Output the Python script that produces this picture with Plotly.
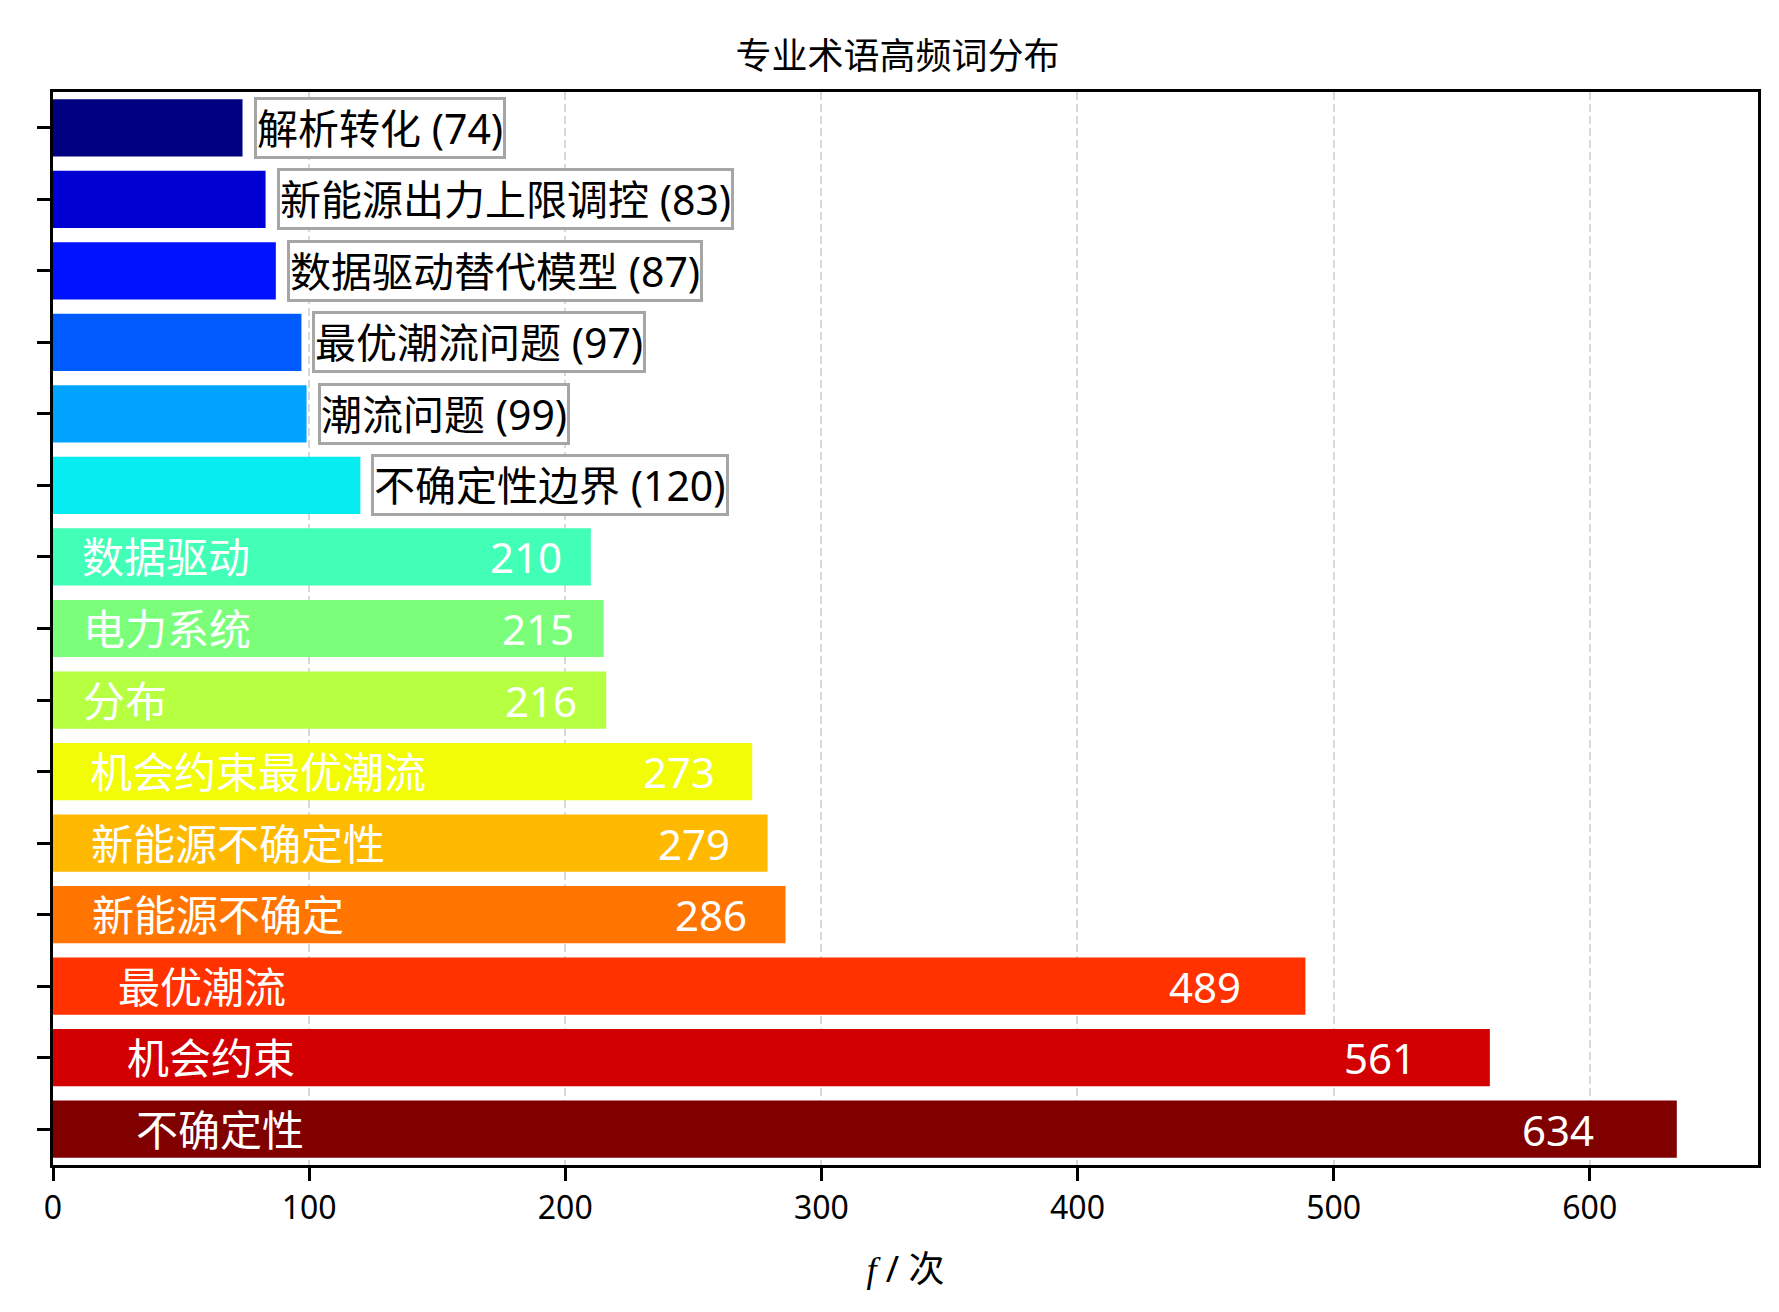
import plotly.graph_objects as go

# 专业术语及出现次数（由上到下）
terms = ["解析转化", "新能源出力上限调控", "数据驱动替代模型", "最优潮流问题", "潮流问题",
         "不确定性边界", "数据驱动", "电力系统", "分布", "机会约束最优潮流",
         "新能源不确定性", "新能源不确定", "最优潮流", "机会约束", "不确定性"]
counts = [74, 83, 87, 97, 99, 120, 210, 215, 216, 273, 279, 286, 489, 561, 634]

# jet 色带取色
bar_colors = ["#000080", "#0000d2", "#0012ff", "#005bff", "#00a4ff",
              "#06edf1", "#41ffb6", "#7bff7b", "#b6ff41", "#f1fc06",
              "#ffb900", "#ff7500", "#ff3200", "#d20000", "#800000"]

FONT = "Noto Sans, Noto Sans CJK SC, sans-serif"
vmax = max(counts)

fig = go.Figure(go.Bar(
    x=counts,
    y=terms,
    orientation="h",
    width=0.8,
    marker=dict(color=bar_colors, line=dict(width=0)),
    hoverinfo="x+y",
))

annotations = []
for term, n in zip(terms, counts):
    if n < 150:
        # 小值：标签放在条形外侧，带灰框
        annotations.append(dict(
            x=n, y=term, xref="x", yref="y", xanchor="left", yanchor="middle",
            xshift=11, text=f"{term} ({n})", showarrow=False,
            font=dict(family=FONT, size=41, color="black"),
            bgcolor="white", bordercolor="#a6a6a6", borderwidth=3, borderpad=0,
        ))
    else:
        annotations.append(dict(
            x=n * 0.05, y=term, xref="x", yref="y", xanchor="left", yanchor="middle",
            text=term, showarrow=False, font=dict(family=FONT, size=42, color="white"),
        ))
        annotations.append(dict(
            x=n * 0.95, y=term, xref="x", yref="y", xanchor="right", yanchor="middle",
            text=str(n), showarrow=False, font=dict(family=FONT, size=42, color="white"),
        ))

fig.update_layout(
    width=1779, height=1312,
    margin=dict(l=45, r=29, t=84, b=155),
    paper_bgcolor="white", plot_bgcolor="white",
    font=dict(family=FONT, color="black"),
    title=dict(text="专业术语高频词分布", x=0.5, xanchor="center",
               y=1 - 48 / 1312, yanchor="middle", font=dict(size=36, color="black")),
    showlegend=False,
    annotations=annotations,
    bargap=0.2,
)

fig.update_xaxes(
    range=[0, vmax * 1.05], dtick=100, tick0=0,
    showline=True, mirror=True, linecolor="black", linewidth=2.5,
    ticks="outside", ticklen=13, tickwidth=2.5, tickcolor="black",
    tickfont=dict(size=32, color="black"),
    showgrid=True, gridcolor="rgba(170,170,170,0.45)", gridwidth=1.5, griddash="8px,4px",
    zeroline=False, layer="above traces",
    title=dict(text="<span style=\"font-family:'Liberation Serif'\"><i>f</i></span> / 次",
               font=dict(size=36, color="black"), standoff=30),
)
fig.update_yaxes(
    categoryorder="array", categoryarray=terms,
    range=[len(terms) - 0.5, -0.5],
    showline=True, mirror=True, linecolor="black", linewidth=2.5,
    ticks="outside", ticklen=13, tickwidth=2.5, tickcolor="black",
    showticklabels=False, showgrid=False, zeroline=False,
)

fig.write_html("out.html")
